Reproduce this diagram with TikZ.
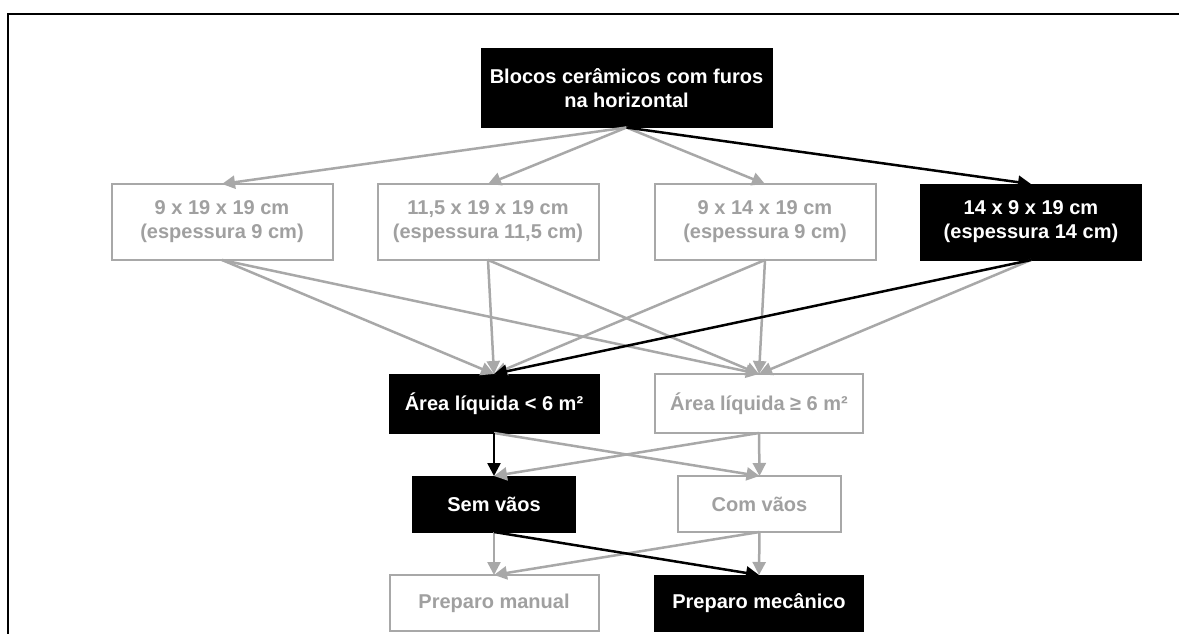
\documentclass[tikz,border=0pt]{standalone}
\usepackage{fontspec}
\setmainfont{Liberation Sans}
\usetikzlibrary{arrows.meta}
\definecolor{lg}{HTML}{A8A8A8}
\definecolor{tg}{HTML}{A0A0A0}
\begin{document}
\begin{tikzpicture}[x=1pt,y=-1pt,
  txt/.style={font=\fontsize{20}{24}\selectfont\bfseries,align=center,inner sep=0pt,outer sep=0pt},
  blk/.style={txt,fill=black,draw=black,text=white},
  gry/.style={txt,fill=white,draw=lg,line width=2pt,text=tg},
  ga/.style={draw=lg,line width=2.5pt,-{Triangle[length=13pt,width=13pt]}},
  ba/.style={draw=black,line width=2.5pt,-{Triangle[length=13pt,width=13pt]}}]
\useasboundingbox (0,0) rectangle (1179,634);
\fill[white] (0,0) rectangle (1179,634);
\coordinate (fa) at (8,634);
\coordinate (fb) at (8,14);
\coordinate (fc) at (1179,14);
\draw[line width=2.2pt] (fa) -- (fb) -- (fc);

\node[blk,minimum width=291pt,minimum height=79pt] (top) at (626.5,88) {Blocos cerâmicos com furos\\na horizontal};

\node[gry,minimum width=221pt,minimum height=76pt] (b1) at (222,222) {9 x 19 x 19 cm\\(espessura 9 cm)};
\node[gry,minimum width=221pt,minimum height=76pt] (b2) at (488,222) {11,5 x 19 x 19 cm\\(espessura 11,5 cm)};
\node[gry,minimum width=221pt,minimum height=76pt] (b3) at (765,222) {9 x 14 x 19 cm\\(espessura 9 cm)};
\node[blk,minimum width=221pt,minimum height=76pt] (b4) at (1031,222) {14 x 9 x 19 cm\\(espessura 14 cm)};

\node[blk,minimum width=210pt,minimum height=59pt] (a1) at (494,403.5) {Área líquida < 6 m²};
\node[gry,minimum width=208pt,minimum height=59pt] (a2) at (759,403.5) {Área líquida ≥ 6 m²};

\node[blk,minimum width=163pt,minimum height=56pt] (s1) at (494,504) {Sem vãos};
\node[gry,minimum width=163pt,minimum height=56pt] (s2) at (759.5,504) {Com vãos};

\node[gry,minimum width=209pt,minimum height=56pt] (p1) at (494,603) {Preparo manual};
\node[blk,minimum width=209pt,minimum height=56pt] (p2) at (759,603) {Preparo mecânico};

% gray connectors
\draw[ga] (top.south) -- (b1.north);
\draw[ga] (top.south) -- (b2.north);
\draw[ga] (top.south) -- (b3.north);
\draw[ga] (b1.south) -- (a1.north);
\draw[ga] (b1.south) -- (a2.north);
\draw[ga] (b2.south) -- (a1.north);
\draw[ga] (b2.south) -- (a2.north);
\draw[ga] (b3.south) -- (a1.north);
\draw[ga] (b3.south) -- (a2.north);
\draw[ga] (b4.south) -- (a2.north);
\draw[ga] (a1.south) -- (s2.north);
\draw[ga] (a2.south) -- (s1.north);
\draw[ga] (a2.south) -- (s2.north);
\draw[ga] (s1.south) -- (p1.north);
\draw[ga] (s2.south) -- (p1.north);
\draw[ga] (s2.south) -- (p2.north);
% black connectors
\draw[ba] (top.south) -- (b4.north);
\draw[ba] (b4.south) -- (a1.north);
\draw[ba] (a1.south) -- (s1.north);
\draw[ba] (s1.south) -- (p2.north);
\end{tikzpicture}
\end{document}
